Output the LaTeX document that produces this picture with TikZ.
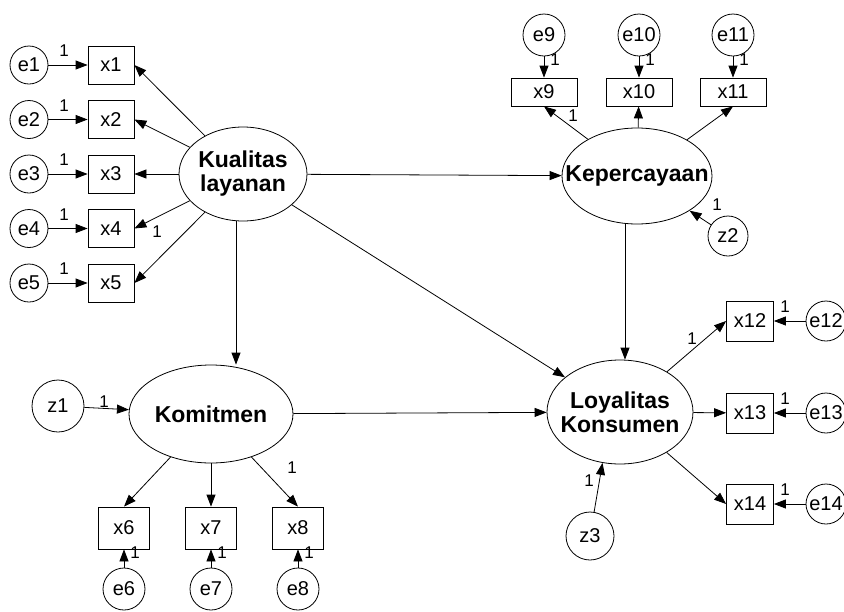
\documentclass[tikz,border=0pt]{standalone}
\usepackage{fontspec}
\setmainfont{Liberation Sans}
\usetikzlibrary{shapes.geometric,arrows.meta}
\begin{document}
\begin{tikzpicture}[x=1pt,y=-1pt,
  lat/.style={ellipse,draw,line width=0.8pt,inner sep=0pt},
  lattext/.style={font=\bfseries\fontsize{23}{24}\selectfont,align=center,inner sep=0pt},
  obs/.style={rectangle,draw,line width=0.8pt,inner sep=0pt,font=\fontsize{20}{22}\selectfont},
  err/.style={circle,draw,line width=0.8pt,inner sep=0pt,minimum size=40pt,font=\fontsize{20}{22}\selectfont},
  arr/.style={-{Triangle[length=12pt,width=9pt]},line width=0.8pt},
  lbl/.style={font=\fontsize{17}{17}\selectfont,inner sep=0pt}
]
\useasboundingbox (0,0) rectangle (844,611);
\fill[white] (0,0) rectangle (844,611);

% latent variables
\node[lat,minimum width=128pt,minimum height=94pt,label={[lattext]center:Kualitas\\layanan}] (K) at (243,174) {};
\node[lat,minimum width=150pt,minimum height=96pt,label={[lattext]center:Kepercayaan}] (Kep) at (637,176) {};
\node[lat,minimum width=164pt,minimum height=98pt,label={[lattext]center:Komitmen}] (Kom) at (211,414) {};
\node[lat,minimum width=146pt,minimum height=104pt,label={[lattext]center:Loyalitas\\Konsumen}] (L) at (620,412) {};

% left indicators
\foreach \i/\y in {1/65,2/119.5,3/174,4/228.5,5/283}{
  \node[obs,minimum width=46pt,minimum height=38pt] (x\i) at (111,\y) {x\i};
  \node[err,minimum size=38pt] (e\i) at (29,\y) {e\i};
  \draw[arr] (e\i) -- (x\i);
  \node[lbl] (l\i) at (64,\y-14) {1};
}
\draw[arr] (K) -- (x1.east);
\draw[arr] (K) -- (x2.east);
\draw[arr] (K) -- (x3);
\draw[arr] (K) -- (x4.east);
\draw[arr] (K) -- (x5.east);
\node[lbl] (lk5) at (157,232) {1};

% top indicators
\foreach \i/\x in {9/544,10/639,11/733}{
  \node[obs,minimum width=66pt,minimum height=28pt] (x\i) at (\x,92) {x\i};
  \node[err,minimum size=42pt] (e\i) at (\x,35) {e\i};
  \draw[arr] (e\i) -- (x\i);
  \node[lbl] (l\i) at (\x+11,60) {1};
}
\draw[arr] (Kep) -- (x9.south);
\draw[arr] (Kep) -- (x10);
\draw[arr] (Kep) -- (x11.south);
\node[lbl] (lk9) at (573,116) {1};
\node[err] (z2) at (728,236) {z2};
\draw[arr] (z2) -- (Kep);
\node[lbl] (lz2) at (717,205) {1};

% right indicators
\foreach \i/\y in {12/321,13/413,14/504}{
  \node[obs,minimum width=47pt,minimum height=40pt] (x\i) at (750,\y) {x\i};
  \node[err] (e\i) at (826,\y) {e\i};
  \draw[arr] (e\i) -- (x\i);
  \node[lbl] (l\i) at (785,\y-14) {1};
}
\draw[arr] (L) -- (x12.west);
\draw[arr] (L) -- (x13);
\draw[arr] (L) -- (x14.west);
\node[lbl] (lk12) at (692,339) {1};
\node[err,minimum size=48pt] (z3) at (590,536) {z3};
\draw[arr] (z3) -- (L.-109);
\node[lbl] (lz3) at (589,481) {1};

% bottom indicators
\foreach \i/\x in {6/124,7/211,8/298}{
  \node[obs,minimum width=51pt,minimum height=42pt] (x\i) at (\x,528) {x\i};
  \node[err,minimum size=42pt] (e\i) at (\x,589) {e\i};
  \draw[arr] (e\i) -- (x\i);
  \node[lbl] (l\i) at (\x+11,553) {1};
}
\draw[arr] (Kom) -- (x6.north);
\draw[arr] (Kom) -- (x7);
\draw[arr] (Kom) -- (x8.north);
\node[lbl] (lk8) at (292,468) {1};
\node[err,minimum size=52pt] (z1) at (58,406) {z1};
\draw[arr] (z1) -- (Kom);
\node[lbl] (lz1) at (104,402) {1};

% structural paths
\coordinate (v1) at (236,0);
\coordinate (v2) at (625,0);
\draw[arr] (K) -- (Kep);
\draw[arr] (K) -- (L);
\draw[arr] (v1 |- K.south) -- (v1 |- Kom.north);
\draw[arr] (v2 |- Kep.south) -- (v2 |- L.north);
\draw[arr] (Kom) -- (L);
\end{tikzpicture}
\end{document}
